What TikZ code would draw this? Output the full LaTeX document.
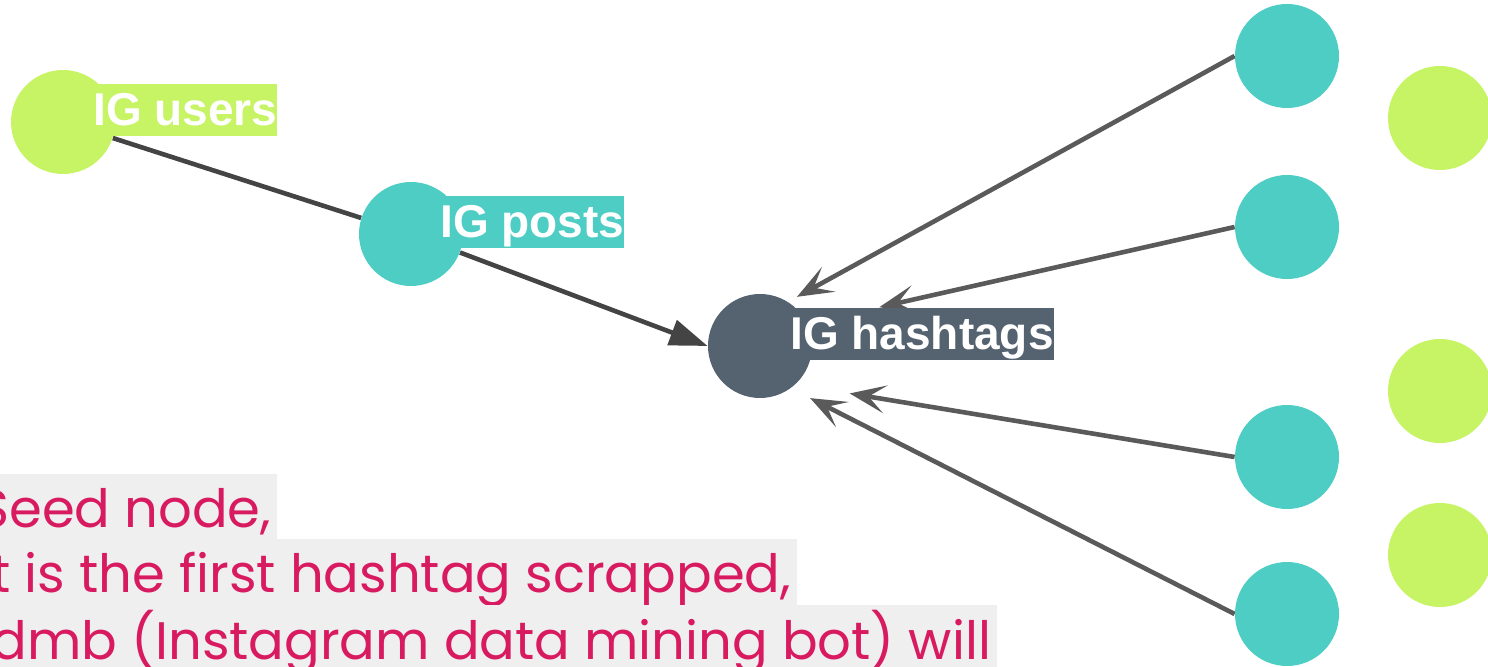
\documentclass[tikz,border=0pt]{standalone}
\usepackage{fontspec}
\newfontfamily\labelfont{Liberation Sans}
\newfontfamily\notefont{Poppins}
\usepackage{tikz}
\usetikzlibrary{arrows.meta,backgrounds}
\usetikzlibrary{positioning}

\definecolor{iglime}{HTML}{C7F464}
\definecolor{igteal}{HTML}{4ECDC4}
\definecolor{igslate}{HTML}{556270}
\definecolor{linkdark}{HTML}{444444}
\definecolor{linkgray}{HTML}{5A5A5A}
\definecolor{notepink}{HTML}{D81B60}
\definecolor{notebg}{HTML}{EFEFEF}

\begin{document}
\begin{tikzpicture}[x=0.5pt,y=-0.5pt,
        dot/.style={circle,minimum size=52pt,inner sep=0pt},
        tag/.style={anchor=west,inner sep=0pt,text=white,
            font=\labelfont\bfseries\fontsize{23pt}{23pt}\selectfont,
            text height=20.8pt,text depth=4.9pt},
        note/.style={anchor=base west,fill=notebg,text=notepink,
            font=\notefont\fontsize{26.4pt}{26.4pt}\selectfont,
            inner xsep=3pt,inner ysep=0pt,text height=27pt,text depth=6.5pt},
        link/.style={line width=2.3pt,draw=linkdark},
        inlink/.style={line width=2.3pt,draw=linkgray,
            -{Stealth[length=18pt,width=14pt,inset=8.5pt]}}]
    \path[use as bounding box,clip] (0,0) rectangle (1488,667);

    % graph nodes
    \node[dot,fill=iglime] (u) at (63,122) {};
    \node[dot,fill=igteal] (p) at (411,234) {};
    \node[dot,fill=igslate] (h) at (760,346) {};
    \node[tag,fill=iglime] (ul) at (93,110) {IG users};
    \node[tag,fill=igteal] (pl) at (440,222) {IG posts};
    \node[tag,fill=igslate] (hl) at (790,334) {IG hashtags};

    \node[dot,fill=igteal] (t1) at (1287,56) {};
    \node[dot,fill=igteal] (t2) at (1287,227) {};
    \node[dot,fill=igteal] (t3) at (1287,457) {};
    \node[dot,fill=igteal] (t4) at (1287,614) {};
    \node[dot,fill=iglime] (l1) at (1440,118) {};
    \node[dot,fill=iglime] (l2) at (1440,391) {};
    \node[dot,fill=iglime] (l3) at (1440,555) {};

    % edges under the nodes
    \begin{scope}[on background layer]
        \draw[link] (u) -- (p);
        \draw[link,-{Triangle[length=19pt,width=13pt]}] (p) -- (h.west);
        \draw[inlink,shorten >=51pt] (t1.west) -- (h.west);
        \draw[inlink,shorten >=88pt] (t2.west) -- (h.west);
        \draw[inlink,shorten >=72pt] (t3.west) -- ([yshift=-12pt]h.west);
        \draw[inlink,shorten >=57.5pt] (t4.west) -- (h.west);
    \end{scope}

    % seed note
    \node[note] (n1) at (-28,528) {Seed node,};
    \node[note] (n2) at (-28,593) {It is the first hashtag scrapped,};
    \node[note] (n3) at (-28,659) {Idmb (Instagram data mining bot) will};
\end{tikzpicture}
\end{document}
